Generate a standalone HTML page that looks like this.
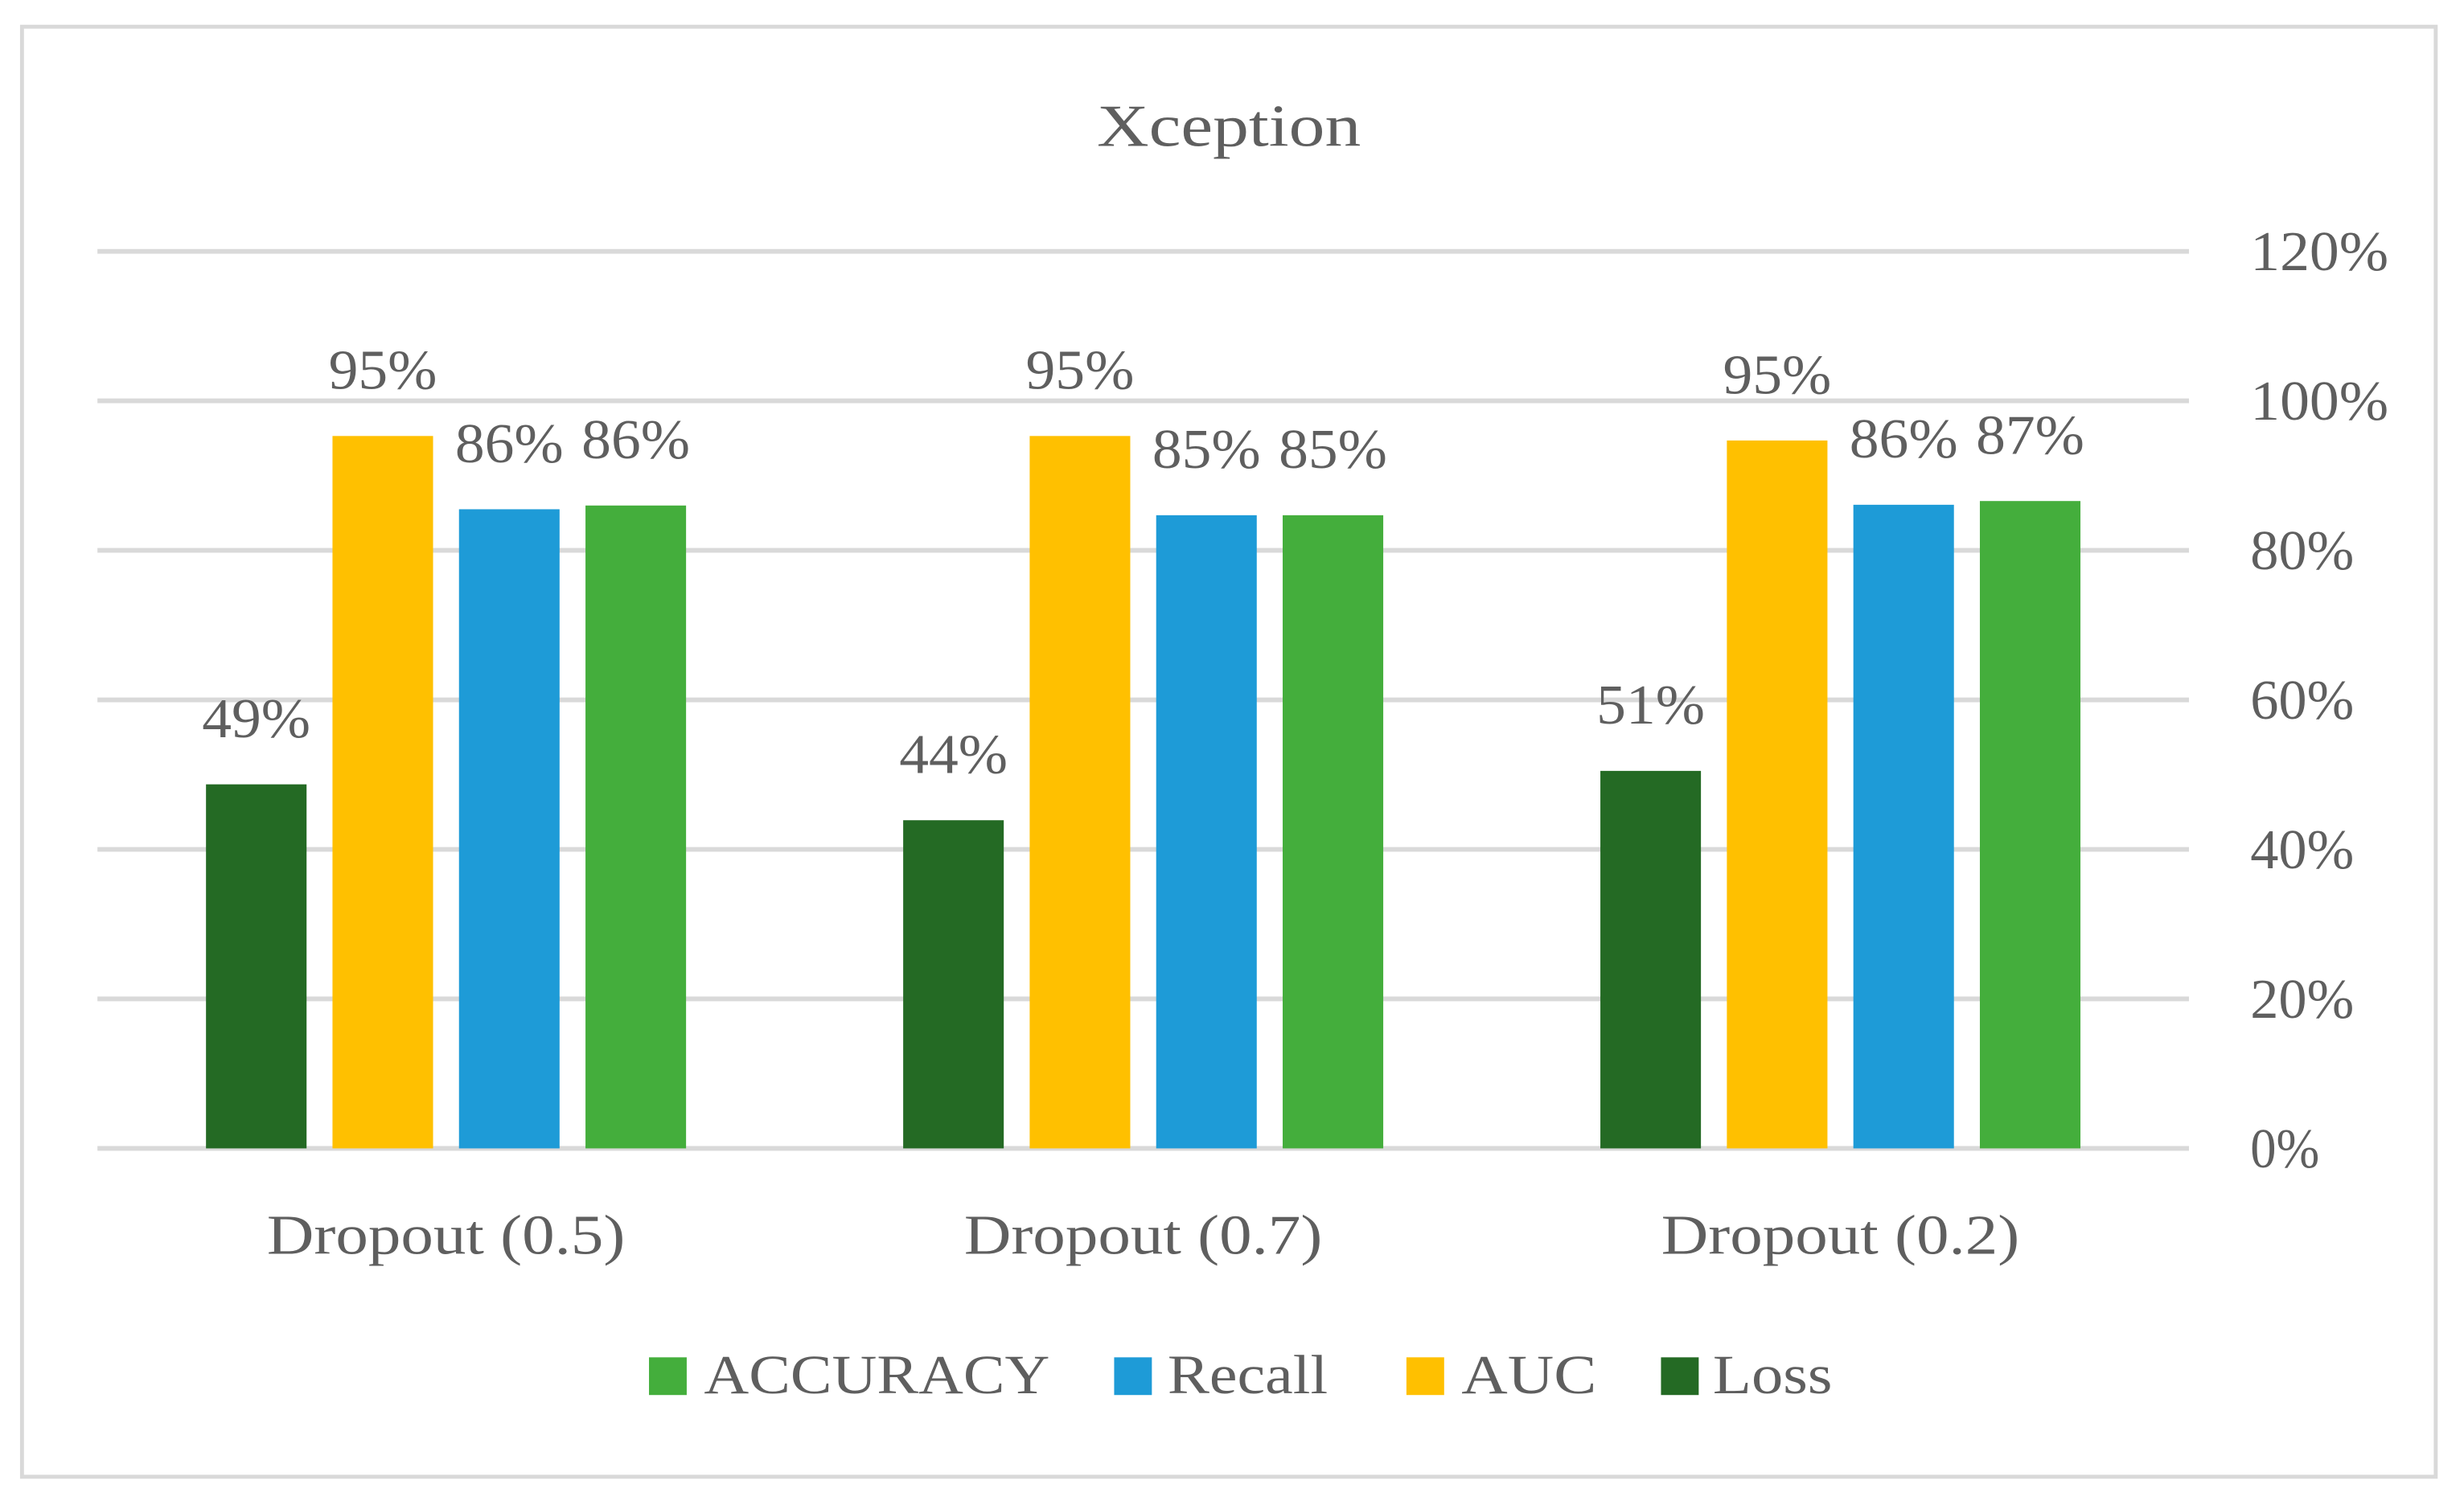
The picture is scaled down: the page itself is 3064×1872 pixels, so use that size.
<!DOCTYPE html>
<html><head><meta charset="utf-8"><style>
html,body{margin:0;padding:0;background:#fff;}
svg{display:block;}
text{font-family:"Liberation Serif",serif;fill:#5f5f5f;}
</style></head><body>
<svg id="chart" width="3064" height="1872" viewBox="0 0 1568 958" xmlns="http://www.w3.org/2000/svg">
<rect x="14" y="17" width="1536" height="923" fill="#fff" stroke="#d9d9d9" stroke-width="2.5"/>
<text x="698" y="93" font-size="38" textLength="168" lengthAdjust="spacingAndGlyphs">Xception</text>
<g id="grid"></g><g id="bars"></g><g id="labels"></g>
<g>
<rect x="413" y="864" width="24" height="24" fill="#44ae3c"/>
<text x="448" y="887" font-size="35" textLength="220" lengthAdjust="spacingAndGlyphs">ACCURACY</text>
<rect x="709" y="864" width="24" height="24" fill="#1e9bd7"/>
<text x="743" y="887" font-size="35" textLength="102" lengthAdjust="spacingAndGlyphs">Recall</text>
<rect x="895" y="864" width="24" height="24" fill="#ffc000"/>
<text x="930" y="887" font-size="35" textLength="86" lengthAdjust="spacingAndGlyphs">AUC</text>
<rect x="1057" y="864" width="24" height="24" fill="#246a24"/>
<text x="1090" y="887" font-size="35" textLength="76" lengthAdjust="spacingAndGlyphs">Loss</text>
</g>
</svg>
<script>
const categories = ["Dropout (0.5)", "Dropout (0.7)", "Dropout (0.2)"];
const seriesNames = ["Loss", "AUC", "Recall", "ACCURACY"];
const lossValues = [48.7, 43.9, 50.5];
const aucValues = [95.3, 95.3, 94.7];
const recallValues = [85.5, 84.7, 86.1];
const accuracyValues = [86.0, 84.7, 86.6];
const lossLabels = ["49%", "44%", "51%"];
const aucLabels = ["95%", "95%", "95%"];
const recallLabels = ["86%", "85%", "86%"];
const accuracyLabels = ["86%", "85%", "87%"];
const tickValues = [0, 20, 40, 60, 80, 100, 120];
const tickLabels = ["0%", "20%", "40%", "60%", "80%", "100%", "120%"];

const NS = "http://www.w3.org/2000/svg";
const x0 = 62, x1 = 1393, yBase = 731, yTop = 160, vMax = 120;
const yScale = v => yBase - (v / vMax) * (yBase - yTop);
const band = (x1 - x0) / categories.length;
const xCenter = i => x0 + band * (i + 0.5);
const barW = 64, step = 80.5;
const colors = ["#246a24", "#ffc000", "#1e9bd7", "#44ae3c"];
const allVals = [lossValues, aucValues, recallValues, accuracyValues];
const allLabels = [lossLabels, aucLabels, recallLabels, accuracyLabels];

const grid = document.getElementById("grid");
tickValues.forEach((t, i) => {
  const y = yScale(t);
  const l = document.createElementNS(NS, "line");
  l.setAttribute("x1", x0); l.setAttribute("x2", x1);
  l.setAttribute("y1", y); l.setAttribute("y2", y);
  l.setAttribute("stroke", "#d9d9d9"); l.setAttribute("stroke-width", "3");
  
  
  grid.appendChild(l);
  const tx = document.createElementNS(NS, "text");
  tx.setAttribute("x", 1432); tx.setAttribute("y", y + 12);
  tx.setAttribute("font-size", "36");
  tx.setAttribute("textLength", tickLabels[i].length * 22);
  tx.setAttribute("lengthAdjust", "spacingAndGlyphs");
  tx.textContent = tickLabels[i];
  
  
  grid.appendChild(tx);
});

const bars = document.getElementById("bars");
const labels = document.getElementById("labels");
categories.forEach((c, i) => {
  const cx = xCenter(i);
  allVals.forEach((vals, s) => {
    const left = cx - 1.5 * step - barW / 2 + s * step;
    const top = yScale(vals[i]);
    const r = document.createElementNS(NS, "rect");
    r.setAttribute("x", left); r.setAttribute("y", top);
    r.setAttribute("width", barW); r.setAttribute("height", yBase - top);
    r.setAttribute("fill", colors[s]);
    
    
    bars.appendChild(r);
    const t = document.createElementNS(NS, "text");
    t.setAttribute("x", left + barW / 2); t.setAttribute("y", top - 30);
    t.setAttribute("font-size", "36"); t.setAttribute("text-anchor", "middle");
    t.setAttribute("textLength", "69");
    t.setAttribute("lengthAdjust", "spacingAndGlyphs");
    t.textContent = allLabels[s][i];
    
    
    labels.appendChild(t);
  });
  const ct = document.createElementNS(NS, "text");
  ct.setAttribute("x", cx); ct.setAttribute("y", 798);
  ct.setAttribute("font-size", "36"); ct.setAttribute("text-anchor", "middle");
  ct.setAttribute("textLength", "228");
  ct.setAttribute("lengthAdjust", "spacingAndGlyphs");
  ct.textContent = c;
  
  
  labels.appendChild(ct);
});
</script>
</body></html>
